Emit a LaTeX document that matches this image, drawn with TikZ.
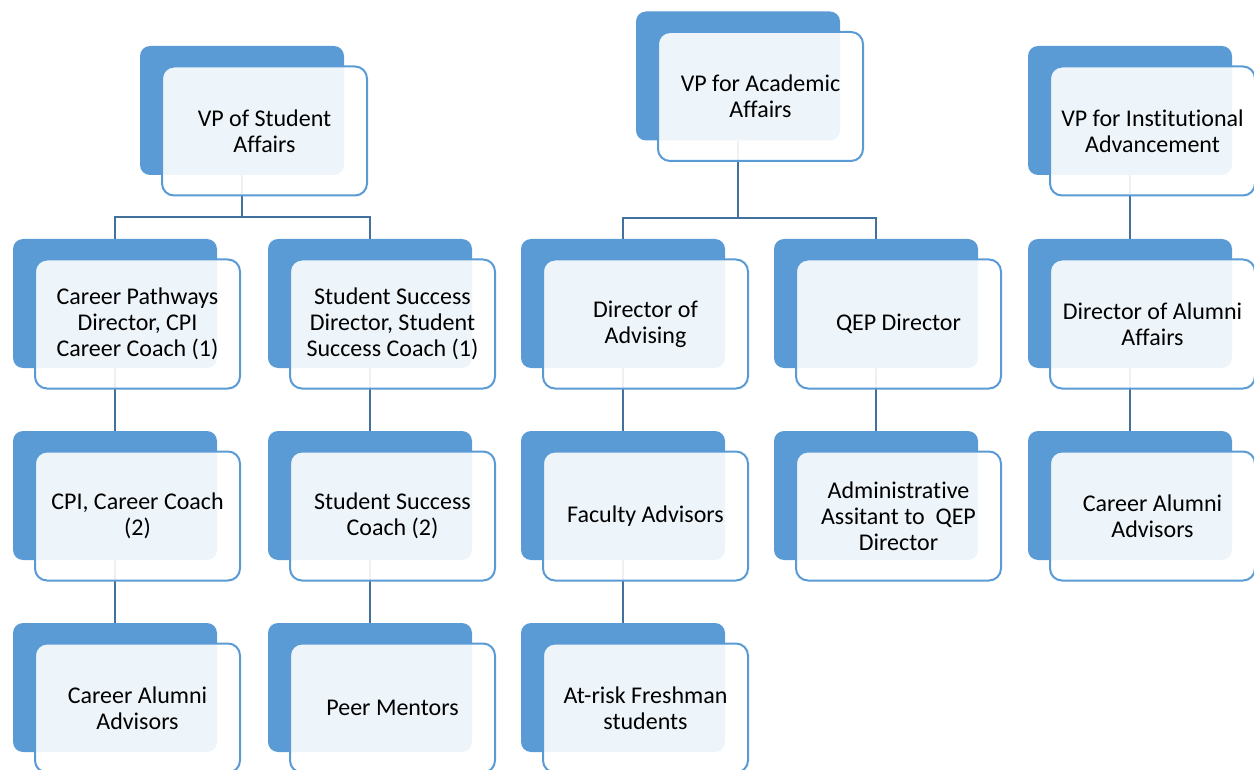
\documentclass[tikz,border=0pt]{standalone}
\usepackage{fontspec}
\setmainfont{Carlito}[Ligatures=NoCommon]
\usepackage{tikz}

\definecolor{boxblue}{HTML}{5B9BD5}
\definecolor{linkblue}{HTML}{41719C}

\begin{document}
\begin{tikzpicture}[x=1pt, y=-1pt]
    \tikzstyle{backbox} = [rectangle, rounded corners=10pt, fill=boxblue, inner sep=0pt, minimum width=204pt, minimum height=129pt]
    \tikzstyle{frontbox} = [rectangle, rounded corners=12pt, draw=boxblue, line width=2pt, fill=white, fill opacity=0.9, text opacity=1, inner sep=0pt, minimum width=205pt, minimum height=129pt, align=center, font=\fontsize{24}{26}\selectfont]
    \tikzstyle{link} = [draw=linkblue, line width=2pt]

    \useasboundingbox (0,0) rectangle (1254,770);

    % Back plates: the three VPs
    \node[backbox] (vps) at (242,110.5) {};
    \node[backbox] (vpa) at (738,76) {};
    \node[backbox] (vpi) at (1130,110.5) {};
    % Back plates: directors
    \node[backbox] (cpd) at (115,303.5) {};
    \node[backbox] (ssd) at (370,303.5) {};
    \node[backbox] (doa) at (623,303.5) {};
    \node[backbox] (qep) at (876,303.5) {};
    \node[backbox] (daa) at (1130,303.5) {};
    % Back plates: staff
    \node[backbox] (cpi) at (115,495.5) {};
    \node[backbox] (ssc) at (370,495.5) {};
    \node[backbox] (fac) at (623,495.5) {};
    \node[backbox] (adm) at (876,495.5) {};
    \node[backbox] (caa) at (1130,495.5) {};
    % Back plates: bottom row
    \node[backbox] (cal) at (115,687.5) {};
    \node[backbox] (peer) at (370,687.5) {};
    \node[backbox] (risk) at (623,687.5) {};

    % Links
    \draw[link] (vps.south) -- ++(0,42) -| (cpd.north);
    \draw[link] (vps.south) -- ++(0,42) -| (ssd.north);
    \draw[link] (vpa.south) -- ++(0,77) -| (doa.north);
    \draw[link] (vpa.south) -- ++(0,77) -| (qep.north);
    \draw[link] (vpi.south) -- (daa.north);
    \foreach \a/\b in {cpd/cpi, cpi/cal, ssd/ssc, ssc/peer, doa/fac, fac/risk, qep/adm, daa/caa}
        \draw[link] (\a.south) -- (\b.north);

    % Front cards with the titles
    \node[frontbox] (vpsF) at ([shift={(22.5,20.5)}]vps.center) {VP of Student\\Affairs};
    \node[frontbox] (vpaF) at ([shift={(22.5,20.5)}]vpa.center) {VP for Academic\\Affairs};
    \node[frontbox] (vpiF) at ([shift={(22.5,20.5)}]vpi.center) {VP for Institutional\\Advancement};

    \node[frontbox] (cpdF) at ([shift={(22.5,20.5)}]cpd.center) {Career Pathways\\Director, CPI\\Career Coach (1)};
    \node[frontbox] (ssdF) at ([shift={(22.5,20.5)}]ssd.center) {Student Success\\Director, Student\\Success Coach (1)};
    \node[frontbox] (doaF) at ([shift={(22.5,20.5)}]doa.center) {Director of\\Advising};
    \node[frontbox] (qepF) at ([shift={(22.5,20.5)}]qep.center) {QEP Director};
    \node[frontbox] (daaF) at ([shift={(22.5,20.5)}]daa.center) {Director of Alumni\\Affairs};

    \node[frontbox] (cpiF) at ([shift={(22.5,20.5)}]cpi.center) {CPI, Career Coach\\(2)};
    \node[frontbox] (sscF) at ([shift={(22.5,20.5)}]ssc.center) {Student Success\\Coach (2)};
    \node[frontbox] (facF) at ([shift={(22.5,20.5)}]fac.center) {Faculty Advisors};
    \node[frontbox] (admF) at ([shift={(22.5,20.5)}]adm.center) {Administrative\\Assitant to\ \ QEP\\Director};
    \node[frontbox] (caaF) at ([shift={(22.5,20.5)}]caa.center) {Career Alumni\\Advisors};

    \node[frontbox] (calF) at ([shift={(22.5,20.5)}]cal.center) {Career Alumni\\Advisors};
    \node[frontbox] (peerF) at ([shift={(22.5,20.5)}]peer.center) {Peer Mentors};
    \node[frontbox] (riskF) at ([shift={(22.5,20.5)}]risk.center) {At-risk Freshman\\students};

\end{tikzpicture}
\end{document}
